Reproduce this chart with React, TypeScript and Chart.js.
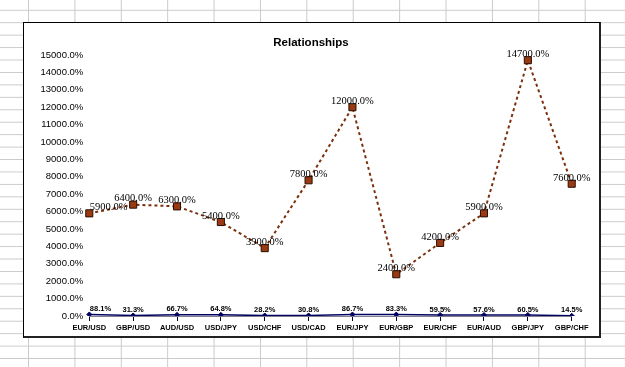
import React, { useEffect, useRef } from "react";
import { Chart, registerables } from "chart.js";

Chart.register(...registerables);

const categories = [
  "EUR/USD", "GBP/USD", "AUD/USD", "USD/JPY", "USD/CHF", "USD/CAD",
  "EUR/JPY", "EUR/GBP", "EUR/CHF", "EUR/AUD", "GBP/JPY", "GBP/CHF",
];
const changeValues = [5900, 6400, 6300, 5400, 3900, 7800, 12000, 2400, 4200, 5900, 14700, 7600];
const correlationValues = [88.1, 31.3, 66.7, 64.8, 28.2, 30.8, 86.7, 83.3, 59.5, 57.6, 60.5, 14.5];
const yMin = 0;
const yMax = 15000;
const yStep = 1000;
const titleText = "Relationships";

const fmt = (v: number) => v.toFixed(1) + "%";

const pointLabelPlugin = {
  id: "pointLabels",
  afterDatasetsDraw(chart: any) {
    const ctx = chart.ctx;
    chart.data.datasets.forEach((ds: any, di: number) => {
      const meta = chart.getDatasetMeta(di);
      meta.data.forEach((pt: any, i: number) => {
        const v = ds.data[i] as number;
        ctx.save();
        ctx.font = di === 0 ? '10.5px "Liberation Serif"' : 'bold 7.5px "Liberation Sans"';
        ctx.fillStyle = "#000";
        ctx.textAlign = i === 0 ? "left" : "center";
        ctx.textBaseline = "middle";
        ctx.fillText(fmt(v), pt.x + (i === 0 ? 0.5 : 0), pt.y - (di === 0 ? 6 : 5.5));
        ctx.restore();
      });
    });
  },
};

const titlePlugin = {
  id: "frameTitle",
  afterDraw(chart: any) {
    const ctx = chart.ctx;
    ctx.save();
    ctx.font = 'bold 11.5px "Liberation Sans"';
    ctx.fillStyle = "#000";
    ctx.textAlign = "center";
    ctx.textBaseline = "middle";
    ctx.fillText(titleText, 311, 42.5);
    ctx.restore();
  },
};

export default function App() {
  const canvasRef = useRef<HTMLCanvasElement | null>(null);

  useEffect(() => {
    if (!canvasRef.current) return;
    const chart = new Chart(canvasRef.current, {
      type: "line",
      data: {
        labels: categories,
        datasets: [
          {
            label: "Change",
            data: changeValues,
            borderColor: "#7a300c",
            borderWidth: 2,
            borderDash: [3, 3],
            tension: 0,
            fill: false,
            pointStyle: "rect",
            pointRadius: 5,
            pointBackgroundColor: "#9a3a12",
            pointBorderColor: "#2a0e02",
            pointBorderWidth: 1,
          },
          {
            label: "Correlation",
            data: correlationValues,
            borderColor: "#000060",
            borderWidth: 1.5,
            tension: 0,
            fill: false,
            pointStyle: "rectRot",
            pointRadius: 2.5,
            pointBackgroundColor: "#000060",
            pointBorderColor: "#000060",
            pointBorderWidth: 1,
          },
        ],
      },
      options: {
        responsive: false,
        animation: false,
        events: [],
        layout: { padding: { left: 29.3, right: 53.3, top: 55, bottom: 29 } },
        plugins: {
          legend: { display: false },
          title: { display: false },
          tooltip: { enabled: false },
        },
        scales: {
          x: {
            type: "category",
            offset: false,
            afterFit: (s: any) => { s.height = 22; },
            grid: {
              display: true,
              drawOnChartArea: false,
              drawTicks: true,
              tickLength: 5,
              color: "#000033",
              lineWidth: 1,
            },
            border: { display: true, color: "#7f7f8f", width: 1 },
            ticks: {
              autoSkip: false,
              maxRotation: 0,
              minRotation: 0,
              padding: 2,
              color: "#000",
              font: { family: '"Liberation Sans"', size: 7.5, weight: "bold" },
            },
          },
          y: {
            min: yMin,
            max: yMax,
            afterFit: (s: any) => { s.width = 60; },
            grid: { display: false, drawTicks: false },
            border: { display: false },
            ticks: {
              stepSize: yStep,
              padding: 6,
              color: "#000",
              font: { family: '"Liberation Sans"', size: 9.5 },
              callback: (v: any) => fmt(Number(v)),
            },
          },
        },
      },
      plugins: [pointLabelPlugin, titlePlugin],
    });
    return () => chart.destroy();
  }, []);

  return (
    <div
      style={{
        position: "absolute",
        left: 0,
        top: 0,
        width: 625,
        height: 367,
        overflow: "hidden",
        backgroundColor: "#fff",
        backgroundImage:
          "linear-gradient(to right, #cacaca 1px, transparent 1px), linear-gradient(to bottom, #cacaca 1px, transparent 1px)",
        backgroundSize: "46.4px 100%, 100% 12.45px",
        backgroundPosition: "28px 0, 0 9.8px",
      }}
    >
      <div
        style={{
          position: "absolute",
          left: 23,
          top: 22,
          width: 578,
          height: 316,
          boxSizing: "border-box",
          background: "#fff",
          borderLeft: "1px solid #000",
          borderTop: "1px solid #000",
          borderRight: "2px solid #222",
          borderBottom: "2px solid #222",
        }}
      />
      <canvas
        ref={canvasRef}
        width={625}
        height={367}
        style={{ position: "absolute", left: 0, top: 0, width: 625, height: 367 }}
      />
    </div>
  );
}
